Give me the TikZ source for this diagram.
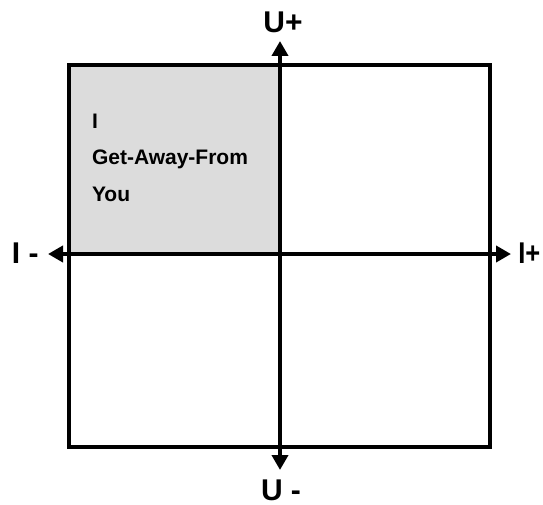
\documentclass[tikz,border=0pt]{standalone}
\usepackage{fontspec}
\setmainfont{Liberation Sans}
\usepackage{tikz}
\usetikzlibrary{arrows.meta}
\definecolor{quadgray}{HTML}{DCDCDC}

\begin{document}
\begin{tikzpicture}[x=1pt, y=-1pt, line width=4pt,
  axis/.style={-{Triangle[length=15pt, width=16pt]}},
  axislabel/.style={font=\bfseries\fontsize{30}{36}\selectfont, inner sep=0pt},
  quadtext/.style={font=\bfseries\fontsize{21}{24}\selectfont, inner sep=0pt, anchor=base west}]

\useasboundingbox (0,0) rectangle (543,505);

% upper left quadrant
\fill[quadgray] (69,65) rectangle (280,254);
\draw (69,65) rectangle (490,447);

\coordinate (o) at (280,254);
\coordinate (uplus) at (280,41);
\coordinate (uminus) at (280,470);
\coordinate (iminus) at (48,254);
\coordinate (iplus) at (511,254);

\draw[axis] (o) -- (uplus);
\draw[axis] (o) -- (uminus);
\draw[axis] (o) -- (iminus);
\draw[axis] (o) -- (iplus);

% axis names
\node[axislabel, anchor=base] (lup) at (283,33) {U+};
\node[axislabel, anchor=base] (ldown) at (281,500) {U -};
\node[axislabel, anchor=base west] (lleft) at (10,263) {I -};
\node[axislabel, anchor=base east, xscale=0.85] (lright) at (542,263) {I+};

\node[quadtext] (q1) at (90,129) {I};
\node[quadtext] (q2) at (90,165) {Get-Away-From};
\node[quadtext] (q3) at (90,201) {You};

\end{tikzpicture}
\end{document}
